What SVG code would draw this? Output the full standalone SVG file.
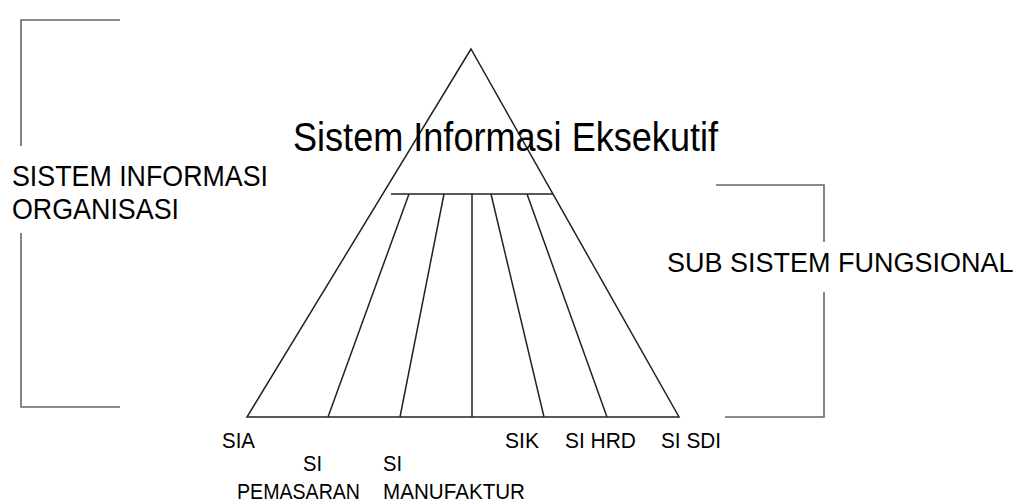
<svg xmlns="http://www.w3.org/2000/svg" width="1024" height="504" viewBox="0 0 1024 504">
<style>
.t{font-family:"Liberation Sans",Arial,sans-serif;fill:#000}
.ln{stroke:#222;stroke-width:1.5;fill:none}
.br{stroke:#666;stroke-width:1.6;fill:none}
.lb{font-size:22px}
</style>
<rect width="1024" height="504" fill="#fff"/>
<g id="pyramid">
<polygon class="ln" points="471,49 247,417 679,417"/>
<line class="ln" x1="391" y1="194" x2="553" y2="194"/>
<line class="ln" x1="409" y1="194" x2="328" y2="417"/>
<line class="ln" x1="444" y1="194" x2="400" y2="417"/>
<line class="ln" x1="472" y1="194" x2="472" y2="417"/>
<line class="ln" x1="491" y1="194" x2="544" y2="417"/>
<line class="ln" x1="527" y1="194" x2="607" y2="417"/>
</g>
<g id="brackets">
<path class="br" d="M120,20 H21 V146 M21,233 V407 H120"/>
<path class="br" d="M716,185 H824 V242 M824,292 V417 H725"/>
</g>
<g id="title"><text class="t" x="293" y="151" font-size="40" textLength="425" lengthAdjust="spacingAndGlyphs">Sistem Informasi Eksekutif</text></g>
<g id="sio">
<text class="t" x="12" y="186" font-size="30" textLength="256" lengthAdjust="spacingAndGlyphs">SISTEM INFORMASI</text>
<text class="t" x="12" y="219" font-size="30" textLength="167" lengthAdjust="spacingAndGlyphs">ORGANISASI</text>
</g>
<g id="ssf"><text class="t" x="667" y="272" font-size="27">SUB SISTEM FUNGSIONAL</text></g>
<g id="labels">
<text class="t lb" x="222" y="448" textLength="33" lengthAdjust="spacingAndGlyphs">SIA</text>
<text class="t lb" x="303" y="471" textLength="19" lengthAdjust="spacingAndGlyphs">SI</text>
<text class="t lb" x="237" y="499" textLength="123" lengthAdjust="spacingAndGlyphs">PEMASARAN</text>
<text class="t lb" x="383" y="471" textLength="19" lengthAdjust="spacingAndGlyphs">SI</text>
<text class="t lb" x="383" y="499" textLength="142" lengthAdjust="spacingAndGlyphs">MANUFAKTUR</text>
<text class="t lb" x="505" y="448" textLength="34" lengthAdjust="spacingAndGlyphs">SIK</text>
<text class="t lb" x="565" y="448" textLength="71" lengthAdjust="spacingAndGlyphs">SI HRD</text>
<text class="t lb" x="661" y="448" textLength="60" lengthAdjust="spacingAndGlyphs">SI SDI</text>
</g>
</svg>
